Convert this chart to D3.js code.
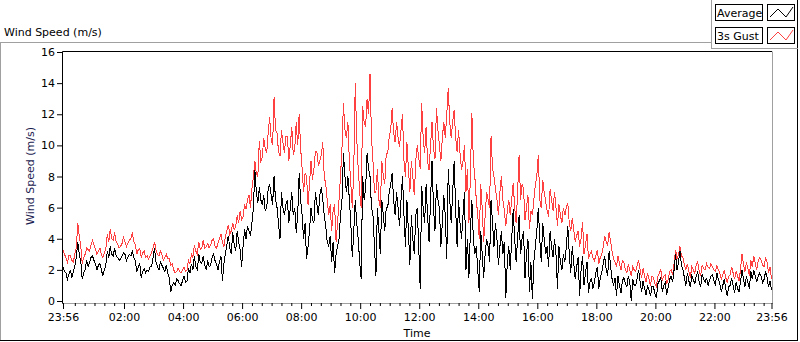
<!DOCTYPE html>
<html>
<head>
<meta charset="utf-8">
<script src="https://cdn.jsdelivr.net/npm/d3@7"></script>
<style>
  body { margin: 0; background: #fff; }
  svg { display: block; font-family: "DejaVu Sans", sans-serif; }
</style>
</head>
<body>
<div id="chart"></div>
<script>
// 3 minute samples from 23:56 (previous day) to 23:56, one row per hour
const gust = [
  3.3, 3.0, 2.8, 2.5, 2.9, 2.9, 2.6, 2.5, 3.0, 3.4, 5.0, 4.2, 3.6, 2.4, 2.8, 3.0, 3.4, 3.3, 3.2, 3.6,
  3.9, 3.6, 3.3, 3.0, 3.2, 3.4, 3.0, 2.8, 3.1, 3.3, 4.3, 3.8, 4.6, 4.0, 3.9, 4.4, 3.8, 3.7, 3.4, 3.5,
  3.7, 4.1, 3.8, 3.5, 3.7, 3.9, 4.0, 4.4, 3.8, 3.6, 3.0, 3.3, 3.4, 2.8, 3.1, 3.2, 2.8, 2.9, 2.7, 2.9,
  3.1, 3.4, 3.8, 3.3, 3.0, 2.9, 3.2, 3.0, 2.6, 2.8, 3.0, 2.7, 2.7, 2.3, 2.4, 2.0, 1.8, 1.9, 2.1, 1.9,
  1.8, 2.0, 2.2, 1.9, 2.0, 2.6, 2.4, 3.0, 2.8, 3.6, 3.2, 3.0, 3.8, 3.3, 3.4, 3.9, 3.4, 3.5, 3.7, 3.4,
  3.6, 3.9, 4.0, 3.5, 3.4, 3.7, 4.0, 4.3, 3.8, 3.5, 4.1, 4.5, 4.9, 4.3, 4.5, 5.0, 4.6, 4.8, 5.5, 5.0,
  5.8, 5.2, 5.4, 6.2, 5.9, 6.5, 6.8, 6.0, 7.2, 8.0, 9.0, 8.2, 8.0, 10.3, 9.0, 9.2, 10.5, 9.8, 9.5, 10.8,
  11.8, 10.4, 10.0, 13.1, 11.0, 10.8, 9.6, 9.3, 11.0, 10.2, 9.5, 10.6, 10.6, 9.0, 10.0, 11.2, 9.4, 9.8, 11.5, 10.0,
  12.0, 9.8, 8.5, 7.0, 8.2, 8.0, 6.2, 7.5, 9.0, 7.8, 8.5, 9.6, 9.6, 8.7, 9.0, 9.4, 10.2, 8.0, 7.5, 6.5,
  5.5, 6.2, 4.5, 5.8, 6.2, 3.8, 5.0, 6.5, 8.0, 9.8, 12.7, 11.0, 10.5, 11.5, 9.0, 7.5, 6.0, 8.5, 14.0, 10.5,
  8.5, 7.0, 6.0, 12.5, 11.5, 11.2, 13.0, 12.0, 14.6, 10.5, 9.0, 7.0, 7.0, 8.5, 6.5, 6.0, 9.0, 8.0, 7.5, 9.5,
  9.5, 10.5, 11.0, 12.4, 10.8, 10.2, 11.5, 10.5, 9.9, 11.0, 12.0, 9.0, 8.0, 10.2, 8.5, 7.0, 9.0, 8.0, 6.8, 9.0,
  10.0, 9.2, 8.5, 12.7, 10.5, 9.5, 11.2, 9.0, 8.4, 10.0, 11.5, 9.8, 9.1, 12.4, 11.0, 10.0, 9.0, 10.5, 11.5, 10.5,
  12.0, 13.7, 11.5, 10.5, 11.5, 12.3, 10.5, 9.6, 11.0, 9.5, 8.4, 9.0, 10.0, 7.0, 8.5, 5.0, 8.0, 12.1, 9.0, 8.0,
  6.5, 5.5, 4.0, 7.5, 6.0, 3.8, 5.5, 7.0, 6.5, 6.0, 10.6, 8.5, 8.0, 7.2, 6.5, 5.5, 7.0, 8.0, 6.5, 5.8,
  4.8, 5.8, 6.5, 5.5, 6.5, 7.6, 6.0, 5.0, 7.0, 9.4, 6.5, 7.5, 7.2, 5.2, 6.0, 6.8, 4.6, 5.8, 5.5, 6.5,
  7.5, 8.0, 9.4, 6.5, 6.0, 7.8, 7.0, 6.4, 5.8, 5.4, 7.2, 6.5, 5.8, 7.0, 6.0, 4.8, 6.2, 5.5, 5.0, 6.0,
  5.5, 6.0, 6.3, 5.0, 4.5, 5.3, 4.6, 3.8, 4.2, 4.5, 3.5, 4.0, 5.1, 3.0, 3.6, 4.3, 2.7, 3.0, 3.2, 2.8,
  2.6, 2.9, 3.3, 2.4, 2.8, 3.0, 3.5, 4.2, 3.8, 3.6, 4.4, 3.8, 3.2, 2.7, 2.5, 2.2, 2.9, 2.4, 2.0, 2.6,
  2.5, 2.0, 1.8, 2.4, 2.0, 1.6, 2.2, 2.0, 1.9, 2.3, 2.6, 2.0, 1.5, 2.1, 1.6, 1.2, 1.8, 1.4, 1.0, 1.6,
  1.5, 1.1, 0.9, 1.6, 1.8, 2.0, 1.3, 1.6, 1.7, 1.1, 1.4, 1.9, 2.0, 1.7, 2.4, 3.3, 2.7, 3.0, 3.5, 2.9,
  2.8, 2.3, 2.0, 2.4, 1.9, 1.5, 2.2, 2.0, 1.8, 2.3, 2.5, 1.9, 1.6, 2.3, 2.1, 2.0, 2.4, 2.2, 2.1, 2.4,
  2.2, 2.0, 1.9, 2.3, 2.0, 1.8, 1.4, 1.7, 2.0, 1.5, 1.2, 1.6, 1.7, 2.2, 1.8, 1.4, 1.9, 1.6, 1.3, 2.0,
  3.0, 2.4, 1.9, 2.5, 2.1, 1.6, 2.6, 2.2, 2.9, 2.4, 2.0, 2.6, 2.8, 2.6, 2.3, 2.2, 2.8, 2.5, 1.8, 2.2,
  1.4
];
const average = [
  2.2, 1.9, 1.8, 1.4, 1.7, 2.0, 1.5, 1.9, 2.2, 2.8, 3.8, 3.0, 2.6, 1.4, 1.8, 2.0, 2.6, 2.2, 2.5, 2.8,
  2.9, 2.6, 2.4, 2.0, 2.3, 2.4, 2.0, 1.6, 2.0, 2.3, 3.2, 2.8, 3.5, 3.0, 2.9, 3.4, 2.9, 2.8, 2.6, 2.7,
  2.9, 3.1, 3.0, 2.6, 2.8, 3.0, 2.9, 3.2, 2.8, 2.6, 1.9, 2.2, 2.4, 1.5, 1.9, 2.1, 1.8, 2.0, 1.9, 2.2,
  2.2, 2.8, 3.4, 2.5, 2.2, 2.0, 2.5, 2.3, 2.1, 1.9, 2.3, 1.8, 1.5, 0.6, 1.0, 1.2, 1.0, 1.4, 1.3, 1.1,
  1.0, 1.3, 1.6, 1.2, 1.3, 2.1, 1.8, 2.4, 2.0, 2.9, 2.2, 2.0, 3.0, 2.5, 2.4, 2.9, 2.3, 2.0, 2.6, 2.2,
  2.3, 2.8, 3.0, 2.6, 2.4, 2.0, 2.5, 2.9, 1.3, 2.4, 3.0, 3.6, 4.2, 3.4, 3.0, 4.4, 3.6, 3.2, 4.5, 3.8,
  3.3, 2.2, 3.5, 4.6, 4.0, 4.8, 4.5, 4.2, 5.0, 6.0, 8.4, 7.0, 6.3, 7.3, 6.5, 6.2, 6.8, 5.8, 6.0, 7.2,
  7.5, 6.8, 6.2, 8.0, 6.5, 6.0, 5.0, 4.0, 7.0, 6.0, 5.5, 6.2, 6.5, 5.0, 6.0, 7.0, 5.5, 6.0, 4.4, 5.5,
  8.2, 6.5, 5.5, 4.0, 5.0, 2.7, 3.5, 4.5, 6.0, 5.2, 5.0, 7.0, 6.2, 5.5, 6.8, 7.3, 6.5, 5.5, 4.8, 3.8,
  3.5, 4.2, 2.5, 3.8, 1.8, 3.0, 3.5, 4.0, 5.5, 6.5, 9.5, 8.0, 7.0, 8.0, 6.5, 5.0, 2.8, 4.5, 6.5, 5.0,
  4.0, 2.5, 1.4, 8.0, 6.5, 7.2, 9.5, 8.5, 8.0, 6.0, 5.5, 3.5, 1.6, 6.0, 4.5, 3.0, 6.5, 5.5, 4.5, 6.0,
  6.0, 7.0, 7.5, 8.2, 6.5, 5.5, 7.0, 6.0, 4.8, 6.5, 8.0, 5.5, 3.5, 6.5, 4.5, 2.3, 5.5, 4.0, 3.0, 5.5,
  6.0, 3.5, 0.8, 7.4, 6.0, 5.0, 7.5, 5.5, 3.8, 6.5, 9.0, 6.0, 4.5, 7.5, 6.5, 6.0, 3.5, 5.0, 6.8, 5.5,
  2.7, 8.5, 6.5, 5.0, 7.0, 9.0, 6.0, 3.5, 6.5, 5.0, 4.0, 5.5, 7.0, 2.0, 4.0, 1.5, 4.5, 6.5, 4.0, 3.0,
  3.5, 2.0, 0.6, 4.5, 3.0, 1.5, 3.0, 4.0, 3.5, 2.5, 6.5, 5.0, 3.5, 5.0, 4.0, 2.3, 3.5, 4.5, 3.0, 3.8,
  0.2, 2.5, 3.5, 2.0, 4.0, 5.9, 4.0, 2.5, 4.0, 5.5, 3.0, 4.0, 4.5, 1.5, 3.0, 4.0, 0.6, 2.5, 0.1, 2.5,
  3.5, 4.5, 6.0, 4.0, 2.5, 5.0, 4.0, 3.0, 3.5, 2.2, 4.5, 3.5, 2.8, 4.0, 3.0, 0.8, 3.5, 2.5, 2.0, 3.0,
  2.5, 3.5, 4.8, 3.0, 1.8, 3.5, 2.5, 1.4, 2.2, 2.8, 0.3, 2.0, 2.9, 1.0, 1.8, 2.5, 0.5, 1.2, 1.5, 0.8,
  1.2, 1.8, 2.2, 0.8, 1.5, 1.8, 2.4, 2.9, 2.0, 1.6, 3.2, 2.2, 1.4, 1.0, 1.5, 0.3, 1.6, 1.0, 0.5, 1.3,
  1.5, 1.1, 0.9, 1.6, 1.2, 0.0, 1.4, 1.0, 1.0, 1.5, 2.0, 1.2, 0.6, 1.3, 0.8, 0.4, 1.0, 0.7, 0.3, 0.9,
  0.9, 0.5, 0.2, 1.1, 1.3, 1.5, 0.6, 1.0, 1.2, 0.4, 0.9, 1.4, 1.6, 1.2, 2.0, 3.0, 2.0, 2.5, 3.2, 2.3,
  2.0, 1.5, 1.0, 1.8, 1.3, 0.9, 1.6, 1.4, 1.1, 1.6, 1.9, 1.2, 0.9, 1.7, 1.4, 1.2, 1.5, 1.0, 1.3, 1.6,
  1.7, 1.3, 1.0, 1.8, 1.4, 1.1, 0.6, 1.0, 1.4, 0.8, 0.3, 0.9, 1.0, 1.5, 1.0, 0.5, 1.2, 0.8, 0.6, 1.2,
  2.0, 1.4, 0.9, 1.6, 1.2, 0.8, 1.9, 1.4, 2.0, 1.6, 1.2, 1.6, 1.8, 1.6, 1.2, 1.4, 1.9, 1.5, 0.9, 1.3,
  0.7
];
const yTicks = [0, 2, 4, 6, 8, 10, 12, 14, 16];
const xTickLabels = ["23:56", "02:00", "04:00", "06:00", "08:00", "10:00", "12:00",
                     "14:00", "16:00", "18:00", "20:00", "22:00", "23:56"];
const seriesNames = ["Average", "3s Gust"];
const seriesColors = ["#000000", "#ff4040"];

const W = 800, H = 342;
const plotLeft = 63, plotRight = 771.5, plotTop = 52, plotBottom = 301;

const t0 = new Date(2020, 0, 1, 23, 56);
const t1 = new Date(2020, 0, 2, 23, 56);
const stepMs = 3 * 60 * 1000;
const timeOf = (i) => new Date(t0.getTime() + i * stepMs);

const x = d3.scaleTime().domain([t0, t1]).range([plotLeft, plotRight]);
const y = d3.scaleLinear().domain([0, 16]).range([plotBottom, plotTop]);

const svg = d3.select('#chart').append('svg')
  .attr('width', W)
  .attr('height', H);

// panel frame
svg.append('line').attr('x1', 0).attr('y1', 42.5).attr('x2', 711).attr('y2', 42.5)
  .attr('stroke', '#a0a0a0');
svg.append('line').attr('x1', 0.5).attr('y1', 42).attr('x2', 0.5).attr('y2', 340)
  .attr('stroke', '#a0a0a0');
svg.append('line').attr('x1', 0).attr('y1', 340.5).attr('x2', 798).attr('y2', 340.5)
  .attr('stroke', '#000');
svg.append('line').attr('x1', 797.5).attr('y1', 0).attr('x2', 797.5).attr('y2', 341)
  .attr('stroke', '#000');

svg.append('text')
  .attr('x', 4).attr('y', 36)
  .attr('font-size', 11)
  .attr('fill', '#000')
  .text('Wind Speed (m/s)');

// plot lines, drawn without anti-aliasing like the original
const seriesLine = d3.line()
  .x((d, i) => x(timeOf(i)))
  .y((d) => y(d));

svg.append('path')
  .datum(gust)
  .attr('d', seriesLine)
  .attr('fill', 'none')
  .attr('stroke', seriesColors[1])
  .attr('stroke-width', 1)
  .attr('shape-rendering', 'crispEdges');

svg.append('path')
  .datum(average)
  .attr('d', seriesLine)
  .attr('fill', 'none')
  .attr('stroke', seriesColors[0])
  .attr('stroke-width', 1)
  .attr('shape-rendering', 'crispEdges');

// plot area frame: dark top/left, grey bottom/right
svg.append('line').attr('x1', 62.5).attr('y1', 51.5).attr('x2', 772).attr('y2', 51.5).attr('stroke', '#000');
svg.append('line').attr('x1', 62.5).attr('y1', 51.5).attr('x2', 62.5).attr('y2', 304).attr('stroke', '#000');
svg.append('line').attr('x1', 62.5).attr('y1', 303.5).attr('x2', 772).attr('y2', 303.5).attr('stroke', '#a0a0a0');
svg.append('line').attr('x1', 772.5).attr('y1', 51.5).attr('x2', 772.5).attr('y2', 304).attr('stroke', '#a0a0a0');

// y axis
const yAxis = d3.axisLeft(y).tickValues(yTicks).tickSize(5).tickPadding(2);
const gy = svg.append('g').attr('transform', 'translate(62,0)').call(yAxis);
gy.select('.domain').remove();
gy.selectAll('text').attr('font-size', 11).attr('font-family', '"DejaVu Sans", sans-serif').attr('fill', '#000');

// x axis, major ticks
const majorTimes = xTickLabels.map((s, i) => {
  if (i === 0) return t0;
  if (i === xTickLabels.length - 1) return t1;
  const p = s.split(':');
  return new Date(2020, 0, 2, +p[0], +p[1]);
});
const xAxis = d3.axisBottom(x)
  .tickValues(majorTimes)
  .tickFormat((d, i) => xTickLabels[i])
  .tickSize(6).tickPadding(4);
const gx = svg.append('g').attr('transform', 'translate(0,303)').call(xAxis);
gx.select('.domain').remove();
gx.selectAll('text').attr('font-size', 11).attr('font-family', '"DejaVu Sans", sans-serif').attr('fill', '#000');

// minor ticks every 20 minutes
const minorTimes = d3.timeMinute.every(20).range(new Date(2020, 0, 2, 0, 0), t1)
  .filter(d => d.getMinutes() !== 0 || d.getHours() % 2 !== 0);
const xMinor = d3.axisBottom(x).tickValues(minorTimes).tickFormat('').tickSize(3);
const gm = svg.append('g').attr('transform', 'translate(0,303)').call(xMinor);
gm.select('.domain').remove();

svg.append('text')
  .attr('x', 417).attr('y', 337)
  .attr('text-anchor', 'middle')
  .attr('font-size', 11)
  .text('Time');

svg.append('text')
  .attr('transform', 'translate(34,176) rotate(-90)')
  .attr('text-anchor', 'middle')
  .attr('font-size', 11)
  .attr('fill', '#1a1a50')
  .text('Wind Speed (m/s)');

// legend
svg.append('line').attr('x1', 711.5).attr('y1', 0).attr('x2', 711.5).attr('y2', 48).attr('stroke', '#a0a0a0');
svg.append('line').attr('x1', 711).attr('y1', 48.5).attr('x2', 798).attr('y2', 48.5).attr('stroke', '#a0a0a0');

const legend = svg.selectAll('.legend-item')
  .data(seriesNames)
  .enter().append('g')
  .attr('class', 'legend-item')
  .attr('transform', (d, i) => 'translate(0,' + (i * 23) + ')');

legend.append('rect')
  .attr('x', 715.5).attr('y', 4.5).attr('width', 47).attr('height', 16)
  .attr('fill', '#fff').attr('stroke', '#000');
legend.append('text')
  .attr('x', 717).attr('y', 17)
  .attr('font-size', 11)
  .text(d => d);
legend.append('rect')
  .attr('x', 767.5).attr('y', 4.5).attr('width', 27).attr('height', 16)
  .attr('fill', '#fff').attr('stroke', '#000');
legend.append('path')
  .attr('d', 'M770,17L778,9L786,17L793,7')
  .attr('fill', 'none')
  .attr('stroke', (d, i) => seriesColors[i]);
</script>
</body>
</html>
